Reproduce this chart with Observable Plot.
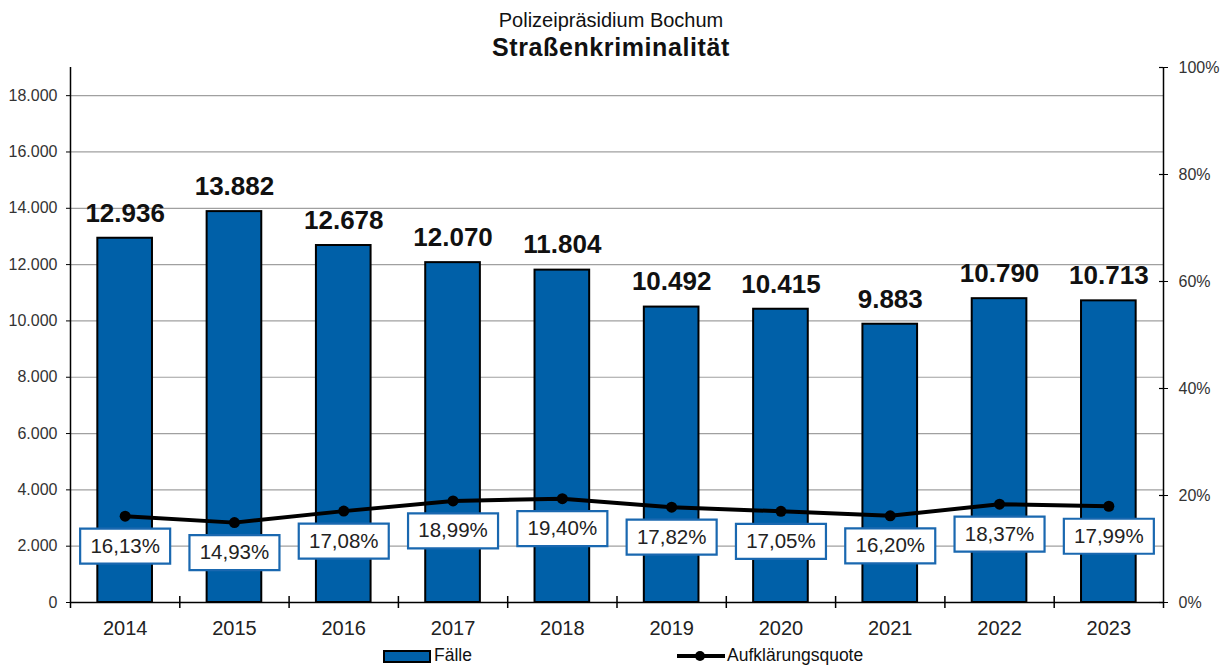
<!DOCTYPE html>
<html>
<head>
<meta charset="utf-8">
<script src="https://cdn.jsdelivr.net/npm/d3@7"></script>
<script src="https://cdn.jsdelivr.net/npm/@observablehq/plot@0.6"></script>
<style>
  html, body { margin: 0; padding: 0; background: #fff; }
  body { width: 1228px; height: 665px; position: relative; overflow: hidden; font-family: "Liberation Sans", Arial, sans-serif; }
  #title { position: absolute; top: 0; left: 0; width: 1228px; text-align: center; z-index: 2; color: #111; }
  #t1 { position: absolute; top: 8px; left: 0; width: 1222px; font-size: 20px; line-height: 24px; }
  #t2 { position: absolute; top: 33px; left: 0; width: 1222px; font-size: 25px; line-height: 28px; font-weight: bold; letter-spacing: 0.6px; }
  #chart { position: absolute; top: 0; left: 0; }
  #legend { position: absolute; top: 645px; left: 0; width: 1228px; height: 20px; font-size: 17.5px; color: #111; }
  .sw { position: absolute; }
</style>
</head>
<body>
<div id="chart"></div>
<div id="title"><div id="t1">Polizeipräsidium Bochum</div><div id="t2">Straßenkriminalität</div></div>
<div id="legend">
  <div class="sw" style="left:383px; top:5px; width:44px; height:9px; background:#0060A8; border:2px solid #000;"></div>
  <div class="sw" style="left:434px; top:0px; line-height:20px;">Fälle</div>
  <div class="sw" style="left:677px; top:9px; width:48px; height:4px; background:#000;"></div>
  <div class="sw" style="left:695px; top:6px; width:10px; height:10px; border-radius:5px; background:#000;"></div>
  <div class="sw" style="left:727px; top:0px; line-height:20px;">Aufklärungsquote</div>
</div>
<script>
// ---- data ----
const years = ["2014", "2015", "2016", "2017", "2018", "2019", "2020", "2021", "2022", "2023"];
const faelle = [12936, 13882, 12678, 12070, 11804, 10492, 10415, 9883, 10790, 10713];
const quote = [16.13, 14.93, 17.08, 18.99, 19.40, 17.82, 17.05, 16.20, 18.37, 17.99];
const leftTicks = [0, 2000, 4000, 6000, 8000, 10000, 12000, 14000, 16000, 18000];
const rightTicks = [0, 20, 40, 60, 80, 100];

// ---- layout ----
const W = 1228, H = 645, mL = 70, mR = 65, mT = 67, mB = 43;
const YMAX = 19000;
const frameW = W - mL - mR;
const frameH = H - mT - mB;
const halfStep = frameW / years.length / 2;

const de = d3.formatLocale({decimal: ",", thousands: ".", grouping: [3], currency: ["", " €"]});
const fmtInt = de.format(",d");
const fmtPct = (v) => de.format(".2f")(v) + "%";

const rows = years.map((y, i) => ({year: y, faelle: faelle[i], quote: quote[i], qy: quote[i] / 100 * YMAX}));
const rightVals = rightTicks.map((p) => p / 100 * YMAX);

const boxSymbol = {
  draw(context) {
    context.moveTo(-45, -17.5);
    context.lineTo(45, -17.5);
    context.lineTo(45, 17.5);
    context.lineTo(-45, 17.5);
    context.closePath();
  }
};

const BLUE = "#0060A8";

const chart = Plot.plot({
  width: W,
  height: H,
  marginLeft: mL,
  marginRight: mR,
  marginTop: mT,
  marginBottom: mB,
  style: {fontFamily: "'Liberation Sans', Arial, sans-serif", background: "#fff", overflow: "visible"},
  x: {type: "band", domain: years, paddingInner: 0.5, paddingOuter: 0.25, round: false, axis: null},
  y: {domain: [0, YMAX], axis: null},
  marks: [
    // gridlines
    Plot.ruleY(leftTicks.filter((d) => d > 0), {stroke: "#a0a0a0", strokeWidth: 1.2}),
    // bars
    Plot.barY(rows, {x: "year", y: "faelle", fill: BLUE, stroke: "#000", strokeWidth: 2}),
    // axis lines
    Plot.ruleY([0], {stroke: "#000", strokeWidth: 1.5}),
    Plot.ruleX([years[0]], {dx: -halfStep, stroke: "#000", strokeWidth: 1.5, insetBottom: -6}),
    Plot.ruleX([years[years.length - 1]], {dx: halfStep, stroke: "#000", strokeWidth: 1.5, insetBottom: -6}),
    // category boundary ticks
    Plot.ruleX(years.slice(0, -1), {dx: halfStep, stroke: "#000", strokeWidth: 1.5, insetTop: frameH - 6, insetBottom: -6}),
    // inner half of right axis ticks
    Plot.ruleY(rightVals, {stroke: "#000", strokeWidth: 1.2, insetLeft: frameW - 4}),
    // left axis
    Plot.axisY(leftTicks, {anchor: "left", tickSize: 4, tickPadding: 9, tickFormat: fmtInt, fontSize: 16, fill: "#333", stroke: "#000", label: null}),
    // right axis
    Plot.axisY(rightVals, {anchor: "right", tickSize: 4, tickPadding: 11, tickFormat: (v) => Math.round(v / YMAX * 100) + "%", fontSize: 16, fill: "#333", stroke: "#000", label: null}),
    // bottom axis labels
    Plot.axisX({anchor: "bottom", tickSize: 0, tickPadding: 18, fontSize: 20, fill: "#222", label: null}),
    // value labels
    Plot.text(rows, {x: "year", y: "faelle", text: (d) => fmtInt(d.faelle), dy: -25, fontSize: 26, fontWeight: "bold", fill: "#111"}),
    // quote line
    Plot.line(rows, {x: "year", y: "qy", stroke: "#000", strokeWidth: 4}),
    Plot.dot(rows, {x: "year", y: "qy", r: 5.5, fill: "#000"}),
    // quote label boxes
    Plot.dot(rows, {x: "year", y: "qy", symbol: boxSymbol, r: 10, dy: 30, fill: "#fff", stroke: "#1a68b0", strokeWidth: 2.2}),
    Plot.text(rows, {x: "year", y: "qy", text: (d) => fmtPct(d.quote), dy: 30, fontSize: 20.5, fill: "#222"})
  ]
});

document.getElementById("chart").appendChild(chart);
</script>
</body>
</html>
